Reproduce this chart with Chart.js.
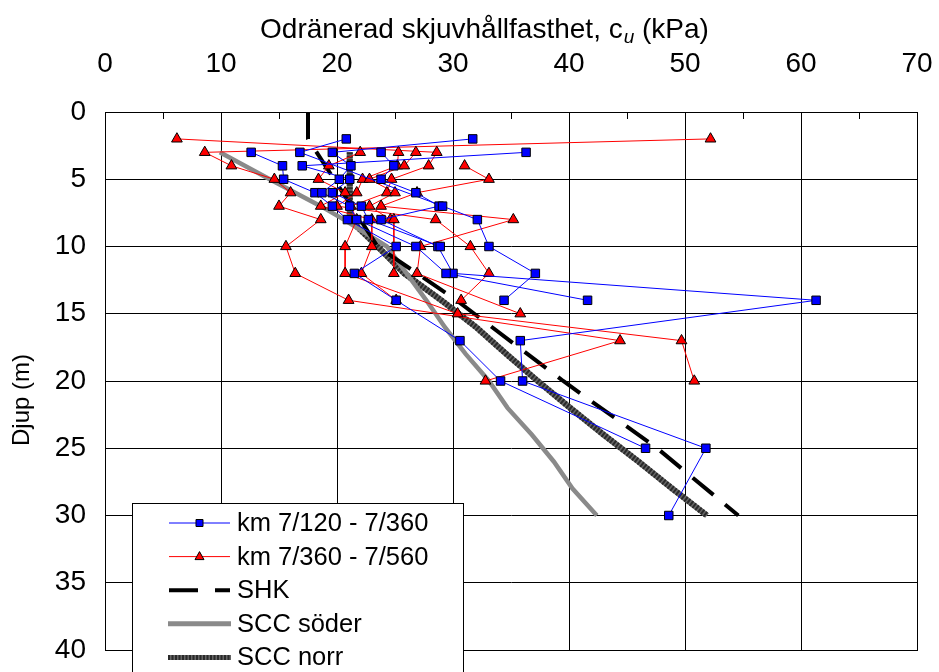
<!DOCTYPE html>
<html>
<head>
<meta charset="utf-8">
<script src="https://cdn.jsdelivr.net/npm/chart.js@4.4.1/dist/chart.umd.min.js"></script>
<style>
  html, body { margin: 0; padding: 0; background: #fff; }
</style>
</head>
<body>
<canvas id="chart" width="939" height="672"></canvas>
<script>
// x ticks (cu, kPa) and y ticks (depth, m)
const xTicks = [0, 10, 20, 30, 40, 50, 60, 70];
const yTicks = [0, 5, 10, 15, 20, 25, 30, 35, 40];

// km 7/120 - 7/360, one pair of arrays per borehole
const blue1Depth = [3, 4, 5, 6, 7, 8, 10, 12, 14, 17, 20, 25];
const blue1Cu    = [12.6, 15.3, 15.4, 18.1, 19.6, 20.9, 25.1, 21.5, 25.1, 30.6, 34.1, 46.6];
const blue2Depth = [3, 4, 5, 6, 7, 8, 10, 12, 14, 17, 20, 25, 30];
const blue2Cu    = [23.8, 24.9, 23.8, 26.8, 28.8, 23.8, 28.7, 30.0, 61.3, 35.8, 36.0, 51.8, 48.6];
const blue3Depth = [2, 3, 4, 5, 6, 7, 8, 10, 12, 14];
const blue3Cu    = [31.7, 19.6, 21.2, 20.2, 18.7, 21.1, 21.7, 26.8, 29.4, 41.6];
const blue4Depth = [3, 4, 5, 6, 7, 8, 10];
const blue4Cu    = [36.3, 17.0, 21.1, 19.6, 22.1, 22.7, 28.9];
const blue5Depth = [2, 3, 7, 8, 10, 12, 14];
const blue5Cu    = [20.8, 16.8, 29.1, 32.1, 33.1, 37.1, 34.4];

// km 7/360 - 7/560
const red1Depth = [2, 3, 4, 5, 6, 7, 8, 10, 12, 15, 17, 20];
const red1Cu    = [6.2, 28.6, 27.9, 24.7, 24.3, 21.2, 21.7, 20.7, 20.7, 30.4, 49.7, 50.8];
const red2Depth = [2, 3, 4, 5, 6, 7, 8, 10, 12, 14, 17, 20];
const red2Cu    = [52.2, 8.6, 10.9, 14.6, 16.0, 15.0, 18.6, 15.6, 16.4, 21.0, 44.4, 32.8];
const red3Depth = [3, 4, 5, 6, 7, 8, 10, 12, 14];
const red3Cu    = [22.0, 19.3, 18.4, 20.7, 18.6, 23.0, 23.0, 22.1, 25.1];
const red4Depth = [3, 4, 5, 6, 7, 8, 10, 12, 14];
const red4Cu    = [25.3, 25.2, 22.2, 21.7, 20.0, 28.5, 31.5, 33.1, 30.7];
const red5Depth = [3, 4, 5, 6, 7, 8, 8, 12];
const red5Cu    = [26.8, 25.8, 22.8, 25.0, 22.8, 24.6, 24.9, 24.9];
const red6Depth = [4, 5, 6, 7, 8, 10, 12, 15];
const red6Cu    = [31.0, 33.1, 26.9, 23.8, 35.2, 27.2, 26.9, 35.8];

// reference curves
const shkDepth = [0, 2, 10, 14, 20, 25, 30];
const shkCu    = [17.5, 17.5, 23.5, 30.3, 39.5, 47.6, 54.6];
const sodDepth = [3, 5, 7, 8, 10, 12, 14, 16, 18, 20, 22, 24, 26, 28, 30];
const sodCu    = [9.9, 14.2, 18.6, 20.6, 24.3, 26.0, 27.7, 29.3, 31.1, 33.1, 34.7, 36.8, 38.7, 40.3, 42.4];
const norDepth = [3, 8, 10, 12, 14, 16, 18, 20, 22, 24, 26, 28, 30];
const norCu    = [21.1, 21.1, 23.5, 25.8, 29.0, 32.0, 34.6, 37.3, 40.1, 43.0, 46.0, 48.9, 51.9];

const FONT = "'Liberation Sans', Arial, sans-serif";

function points(depths, values) {
    return depths.map((d, i) => ({ x: values[i], y: d }));
}

// several boreholes in one dataset, broken by gaps
function joined(list) {
    let out = [];
    list.forEach((p, i) => {
        if (i > 0) out.push({ x: null, y: null });
        out = out.concat(points(p[0], p[1]));
    });
    return out;
}

const bluePoints = joined([[blue1Depth, blue1Cu], [blue2Depth, blue2Cu], [blue3Depth, blue3Cu],
                           [blue4Depth, blue4Cu], [blue5Depth, blue5Cu]]);
const redPoints = joined([[red1Depth, red1Cu], [red2Depth, red2Cu], [red3Depth, red3Cu],
                          [red4Depth, red4Cu], [red5Depth, red5Cu], [red6Depth, red6Cu]]);

const legendItems = [
    { text: 'km 7/120 - 7/360', kind: 'blue' },
    { text: 'km 7/360 - 7/560', kind: 'red' },
    { text: 'SHK', kind: 'shk' },
    { text: 'SCC söder', kind: 'sod' },
    { text: 'SCC norr', kind: 'nor' }
];

const decorPlugin = {
    id: 'decor',
    afterDraw(chart) {
        const ctx = chart.ctx;
        const a = chart.chartArea;
        const xs = chart.scales.x;

        ctx.save();
        // minor ticks along the top edge
        ctx.strokeStyle = '#000';
        ctx.lineWidth = 1;
        for (let v = 5; v < 70; v += 10) {
            const px = Math.round(xs.getPixelForValue(v)) + 0.5;
            ctx.beginPath();
            ctx.moveTo(px, a.top);
            ctx.lineTo(px, a.top + 7);
            ctx.stroke();
        }
        // frame
        ctx.strokeRect(Math.round(a.left) + 0.5, Math.round(a.top) + 0.5,
                       Math.round(a.right - a.left), Math.round(a.bottom - a.top));

        // axis titles
        ctx.fillStyle = '#000';
        ctx.textBaseline = 'middle';
        ctx.textAlign = 'left';
        const t1 = 'Odränerad skjuvhållfasthet, c';
        const t2 = 'u';
        const t3 = ' (kPa)';
        ctx.font = '28px ' + FONT;
        const w1 = ctx.measureText(t1).width;
        const w3 = ctx.measureText(t3).width;
        ctx.font = 'italic 19px ' + FONT;
        const w2 = ctx.measureText(t2).width;
        const tx = 484 - (w1 + w2 + w3) / 2;
        ctx.font = '28px ' + FONT;
        ctx.fillText(t1, tx, 30);
        ctx.font = 'italic 19px ' + FONT;
        ctx.fillText(t2, tx + w1 + 1, 38);
        ctx.font = '28px ' + FONT;
        ctx.fillText(t3, tx + w1 + w2 + 1, 30);

        ctx.save();
        ctx.translate(22, 400);
        ctx.rotate(-Math.PI / 2);
        ctx.textAlign = 'center';
        ctx.font = '24px ' + FONT;
        ctx.fillText('Djup (m)', 0, 0);
        ctx.restore();

        // legend box
        const bx = 132, by = 503, bw = 331, bh = 200;
        ctx.fillStyle = '#fff';
        ctx.fillRect(bx, by, bw, bh);
        ctx.strokeStyle = '#000';
        ctx.lineWidth = 1;
        ctx.strokeRect(bx + 0.5, by + 0.5, bw, bh);

        const x0 = 169, x1 = 230, xm = 199.5;
        legendItems.forEach((it, i) => {
            const y = 523 + i * 33.6;
            ctx.save();
            if (it.kind === 'blue' || it.kind === 'red') {
                ctx.strokeStyle = it.kind === 'blue' ? '#0000ff' : '#ff0000';
                ctx.lineWidth = 1;
                ctx.beginPath(); ctx.moveTo(x0, y); ctx.lineTo(x1, y); ctx.stroke();
                ctx.fillStyle = it.kind === 'blue' ? '#0000ff' : '#ff0000';
                ctx.strokeStyle = '#000';
                ctx.beginPath();
                if (it.kind === 'blue') {
                    ctx.rect(xm - 3.5, y - 3.5, 7, 7);
                } else {
                    ctx.moveTo(xm, y - 5); ctx.lineTo(xm + 4.5, y + 3); ctx.lineTo(xm - 4.5, y + 3); ctx.closePath();
                }
                ctx.fill(); ctx.stroke();
            } else if (it.kind === 'shk') {
                ctx.strokeStyle = '#000';
                ctx.lineWidth = 4;
                ctx.beginPath();
                ctx.moveTo(x0, y); ctx.lineTo(x0 + 29, y);
                ctx.moveTo(x1 - 15, y); ctx.lineTo(x1, y);
                ctx.stroke();
            } else if (it.kind === 'sod') {
                ctx.strokeStyle = '#8a8a8a';
                ctx.lineWidth = 5;
                ctx.beginPath(); ctx.moveTo(x0 - 1, y); ctx.lineTo(x1 + 1, y); ctx.stroke();
            } else {
                ctx.lineWidth = 5;
                ctx.strokeStyle = '#666';
                ctx.beginPath(); ctx.moveTo(x0 - 1, y); ctx.lineTo(x1 + 1, y); ctx.stroke();
                ctx.strokeStyle = '#2a2a2a';
                ctx.setLineDash([2, 1.5]);
                ctx.beginPath(); ctx.moveTo(x0 - 1, y); ctx.lineTo(x1 + 1, y); ctx.stroke();
            }
            ctx.restore();
            ctx.fillStyle = '#000';
            ctx.font = '25.5px ' + FONT;
            ctx.textAlign = 'left';
            ctx.textBaseline = 'middle';
            ctx.fillText(it.text, 237, y + 1);
        });
        ctx.restore();
    }
};

const norrPoints = points(norDepth, norCu);

new Chart(document.getElementById('chart'), {
    type: 'scatter',
    data: {
        datasets: [
            {
                label: 'km 7/120 - 7/360',
                data: bluePoints,
                showLine: true,
                spanGaps: false,
                borderColor: '#0000ff',
                borderWidth: 1,
                pointStyle: 'rect',
                pointRadius: 6,
                pointBackgroundColor: '#0000ff',
                pointBorderColor: '#000',
                pointBorderWidth: 1
            },
            {
                label: 'km 7/360 - 7/560',
                data: redPoints,
                showLine: true,
                spanGaps: false,
                borderColor: '#ff0000',
                borderWidth: 1,
                pointStyle: 'triangle',
                pointRadius: 6.2,
                pointBackgroundColor: '#ff0000',
                pointBorderColor: '#000',
                pointBorderWidth: 1
            },
            {
                label: 'SHK',
                data: points(shkDepth, shkCu),
                showLine: true,
                borderColor: '#000',
                borderWidth: 4,
                borderDash: [27, 15],
                pointRadius: 0
            },
            {
                label: 'SCC söder',
                data: points(sodDepth, sodCu),
                showLine: true,
                borderColor: '#8a8a8a',
                borderWidth: 4.5,
                pointRadius: 0
            },
            {
                label: 'SCC norr',
                data: norrPoints,
                showLine: true,
                borderColor: '#2a2a2a',
                borderWidth: 6,
                borderDash: [2, 1.5],
                pointRadius: 0
            },
            {
                label: 'SCC norr underlay',
                data: norrPoints,
                showLine: true,
                borderColor: '#666',
                borderWidth: 6,
                pointRadius: 0
            }
        ]
    },
    options: {
        responsive: false,
        animation: false,
        layout: { padding: { left: 0, top: 0, right: 22, bottom: 22 } },
        plugins: { legend: { display: false }, tooltip: { enabled: false } },
        scales: {
            x: {
                type: 'linear',
                position: 'top',
                min: 0,
                max: 70,
                afterBuildTicks: s => { s.ticks = xTicks.map(v => ({ value: v })); },
                afterFit: s => { s.height = 112; s.paddingLeft = 0; s.paddingRight = 0; },
                ticks: { padding: 31, color: '#000', font: { family: FONT, size: 28 } },
                grid: { color: '#000', lineWidth: 1, drawTicks: false },
                border: { display: true, color: '#000', width: 1 }
            },
            y: {
                type: 'linear',
                reverse: true,
                min: 0,
                max: 40,
                afterBuildTicks: s => { s.ticks = yTicks.map(v => ({ value: v })); },
                afterFit: s => { s.width = 105; s.paddingTop = 0; s.paddingBottom = 0; },
                ticks: { padding: 19, color: '#000', font: { family: FONT, size: 28 } },
                grid: { color: '#000', lineWidth: 1, drawTicks: false },
                border: { display: true, color: '#000', width: 1 }
            }
        }
    },
    plugins: [decorPlugin]
});
</script>
</body>
</html>
